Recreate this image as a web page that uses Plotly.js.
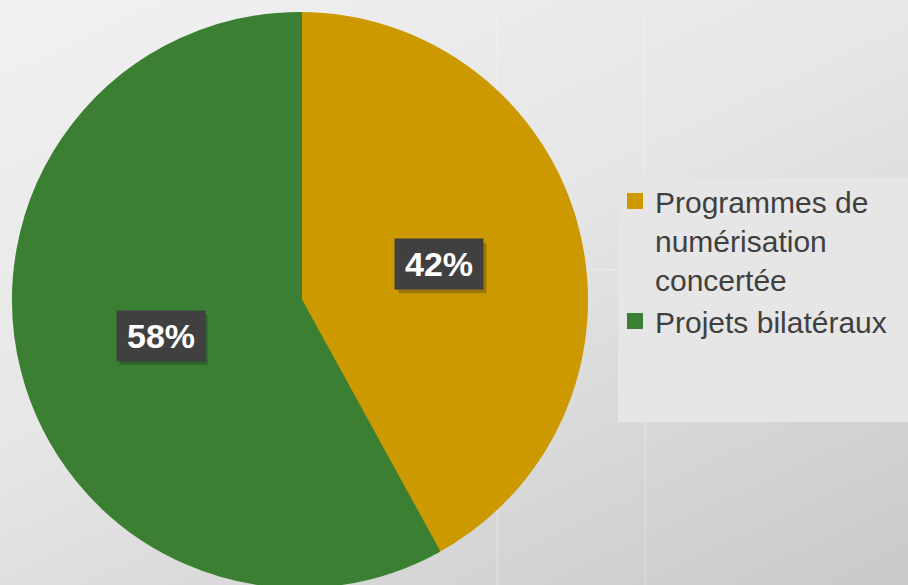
<!DOCTYPE html>
<html>
<head>
<meta charset="utf-8">
<script src="https://cdn.plot.ly/plotly-3.0.1.min.js"></script>
<style>
  html, body { margin: 0; padding: 0; overflow: hidden; width: 908px; height: 585px; }
  #chart { width: 908px; height: 588px;
    background: linear-gradient(155deg, #f1f1f1 0%, #e6e6e6 45%, #d6d6d6 75%, #c9c9c9 100%); }
</style>
</head>
<body>
<div id="chart"></div>
<script>
// ---- data ----
const categories = ["Programmes de<br>numérisation<br>concertée", "Projets bilatéraux"];
const values = [42, 58];
const labelsText = ["42%", "58%"];
const sliceColors = ["#CC9900", "#3B7F32"];

// ---- layout geometry ----
const W = 908, H = 588;
const margin = {l: 0, r: 0, t: 14, b: 2};
const domX = [14 / W, 586 / W];
const plotW = W - margin.l - margin.r, plotH = H - margin.t - margin.b;
const boxW = 88, boxH = 50;

// label positions derived from the data (mid-angle of each slice, half radius)
const total = values.reduce((a, b) => a + b, 0);
const Rpx = Math.min(plotW * (domX[1] - domX[0]), plotH) / 2 + 2;
const cxp = (domX[0] + domX[1]) / 2, cyp = 0.5;
const annotations = [];
const shapes = [];
let cum = 0;
values.forEach((v, i) => {
  const theta = 2 * Math.PI * (cum + v / 2) / total;
  cum += v;
  const dx = 0.5 * Rpx * Math.sin(theta);
  const dy = 0.5 * Rpx * Math.cos(theta);
  const x = cxp + dx / plotW, y = cyp + dy / plotH;
  // soft shadow behind the label box
  shapes.push({
    type: 'rect', xref: 'paper', yref: 'paper', xsizemode: 'pixel', ysizemode: 'pixel',
    xanchor: x, yanchor: y,
    x0: -boxW / 2 + 3, x1: boxW / 2 + 3, y0: -boxH / 2 - 4, y1: boxH / 2 - 4,
    fillcolor: 'rgba(0,0,0,0.22)', line: {width: 0}, layer: 'above'
  });
  annotations.push({
    x: x, y: y, xref: 'paper', yref: 'paper', showarrow: false,
    xanchor: 'center', yanchor: 'middle',
    text: '<b>' + labelsText[i] + '</b>',
    width: boxW, height: boxH, borderpad: 0,
    font: {family: 'Liberation Sans, Arial, sans-serif', size: 34, color: '#ffffff'},
    bgcolor: '#404040'
  });
});

const data = [{
  type: 'pie',
  labels: categories,
  values: values,
  marker: {colors: sliceColors, line: {color: sliceColors, width: 4}},
  sort: false,
  direction: 'clockwise',
  rotation: 0,
  textinfo: 'none',
  hoverinfo: 'label+percent',
  domain: {x: domX, y: [0, 1]}
}];

shapes.unshift(
  {type: 'line', xref: 'paper', yref: 'paper', x0: 497 / W, x1: 497 / W, y0: 0, y1: 1,
   line: {color: 'rgba(255,255,255,0.35)', width: 1}, layer: 'below'},
  {type: 'line', xref: 'paper', yref: 'paper', x0: 645 / W, x1: 645 / W, y0: 0, y1: 1,
   line: {color: 'rgba(255,255,255,0.35)', width: 1}, layer: 'below'},
  {type: 'line', xref: 'paper', yref: 'paper', x0: 0, x1: 1,
   y0: 1 - (270 - margin.t) / plotH, y1: 1 - (270 - margin.t) / plotH,
   line: {color: 'rgba(255,255,255,0.35)', width: 1}, layer: 'below'},
  {type: 'rect', xref: 'paper', yref: 'paper',
   x0: 618 / W, x1: 1, y0: 1 - (422 - margin.t) / plotH, y1: 1 - (178 - margin.t) / plotH,
   fillcolor: '#e6e6e6', line: {width: 0}, layer: 'below'}
);

const layout = {
  width: W, height: H,
  margin: margin,
  paper_bgcolor: 'rgba(0,0,0,0)',
  plot_bgcolor: 'rgba(0,0,0,0)',
  showlegend: true,
  legend: {
    x: 615 / W, xanchor: 'left',
    y: 1 - (175 - margin.t) / plotH, yanchor: 'top',
    valign: 'top',
    bgcolor: 'rgba(0,0,0,0)',
    font: {family: 'Liberation Sans, Arial, sans-serif', size: 30, color: '#404040'},
    tracegroupgap: 0, itemclick: false
  },
  shapes: shapes,
  annotations: annotations
};

Plotly.newPlot('chart', data, layout, {displayModeBar: false, staticPlot: true});
</script>
</body>
</html>
